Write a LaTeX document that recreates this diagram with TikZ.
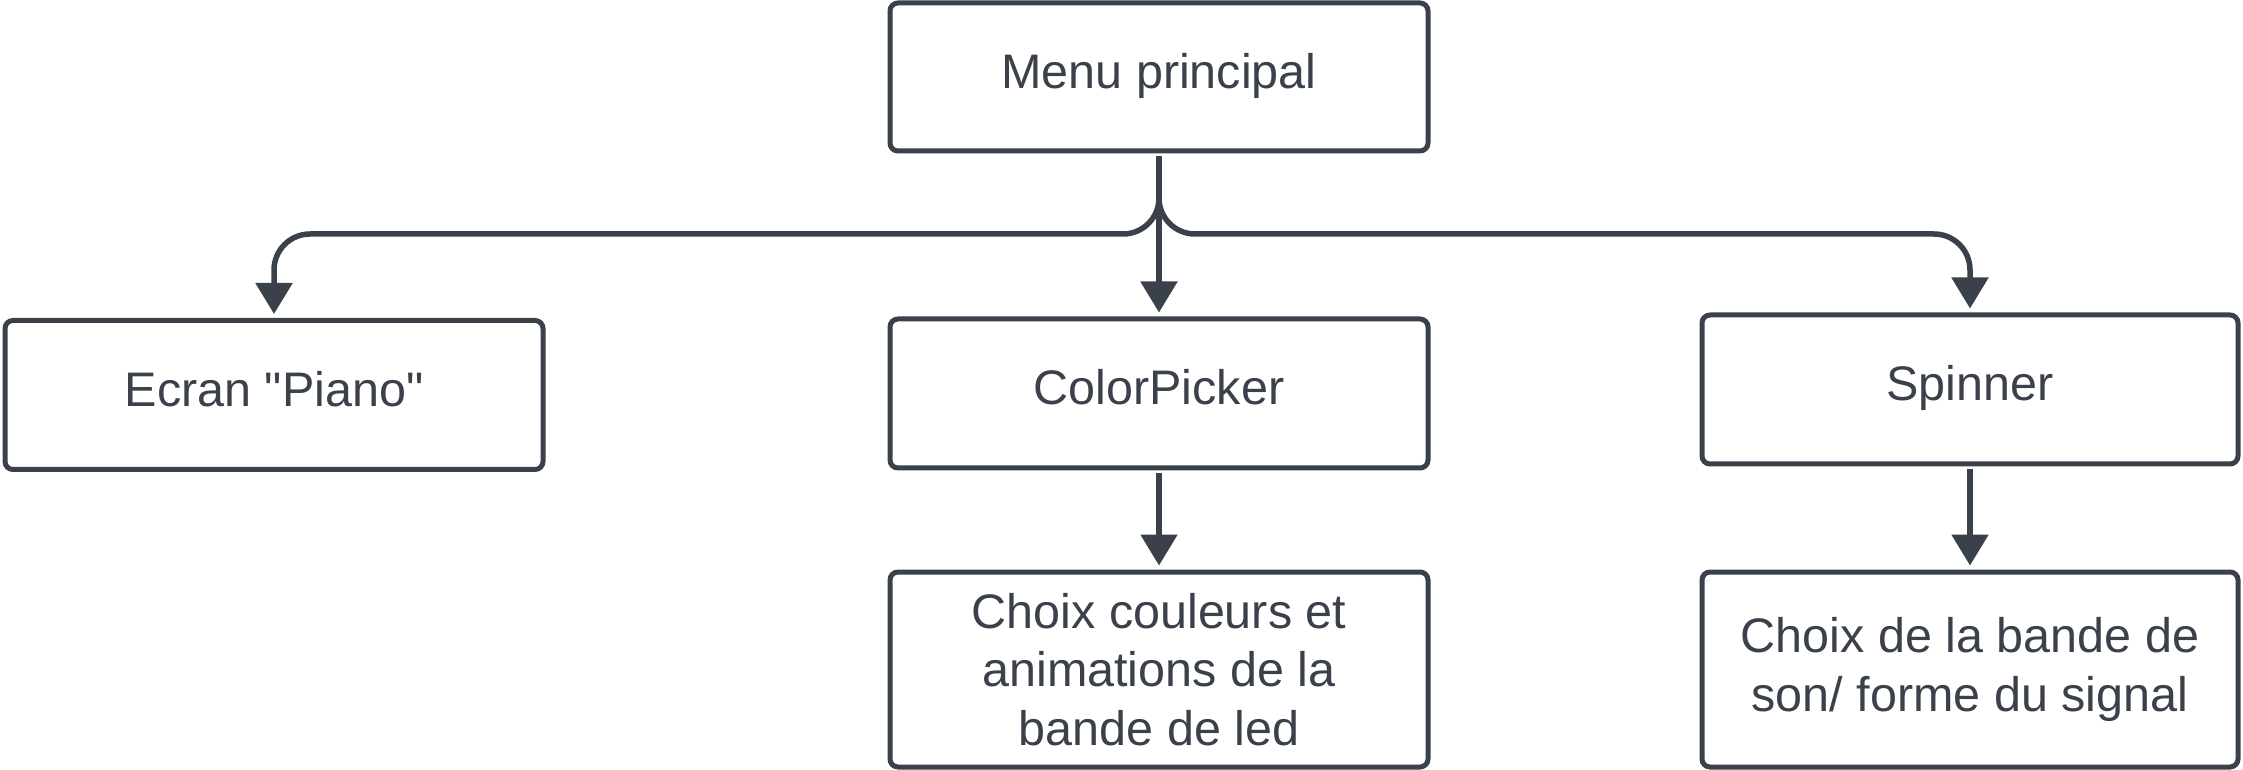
\documentclass[tikz,border=0pt]{standalone}
\usepackage{fontspec}
\setmainfont{Liberation Sans}
\usetikzlibrary{arrows.meta}
\definecolor{ink}{HTML}{3A414A}
\begin{document}
\begin{tikzpicture}[x=1pt,y=1pt,
  box/.style={draw=ink, line width=5pt, rounded corners=8pt, fill=white,
    text=ink, align=center, inner sep=0pt,
    font=\fontsize{48.5}{58.5}\selectfont},
  single/.style={box, text height=35pt, text depth=12pt},
  conn/.style={draw=ink, line width=5.5pt, rounded corners=36pt,
    -{Triangle[length=31pt,width=36pt]}, shorten >=4pt, shorten <=3pt}]
\useasboundingbox (0,0) rectangle (2243,769);
\node[single, minimum width=538pt, minimum height=148pt] (menu) at (1159,692) {Menu principal};
\node[single, minimum width=538pt, minimum height=149pt] (ecran) at (274,374) {Ecran \textquotedbl Piano\textquotedbl};
\node[single, minimum width=538pt, minimum height=149pt] (color) at (1159,375.5) {ColorPicker};
\node[single, minimum width=536pt, minimum height=149pt] (spin) at (1970,379.5) {Spinner};
\node[box, minimum width=538pt, minimum height=195pt] (choix1) at (1159,99.5) {Choix couleurs et\\animations de la\\bande de led};
\node[box, minimum width=536pt, minimum height=195pt] (choix2) at (1970,99.5) {Choix de la bande de\\son/ forme du signal};
\coordinate (split) at (1159,535);
\draw[conn] (menu.south) -- (split) -- (split -| ecran.north) -- (ecran.north);
\draw[conn] (menu.south) -- (split) -- (split -| spin.north) -- (spin.north);
\draw[conn] (menu.south) -- (color.north);
\draw[conn] (color.south) -- (choix1.north);
\draw[conn] (spin.south) -- (choix2.north);
\end{tikzpicture}
\end{document}
